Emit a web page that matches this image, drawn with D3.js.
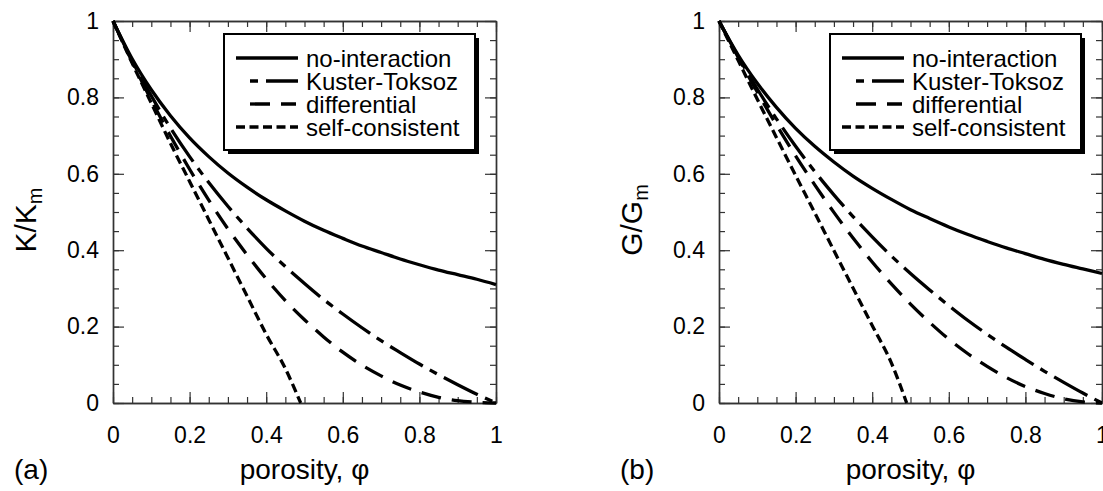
<!DOCTYPE html>
<html>
<head>
<meta charset="utf-8">
<script src="https://cdn.jsdelivr.net/npm/d3@7"></script>
<style>
body { margin: 0; background: #fff; }
text { font-family: "Liberation Sans", Arial, sans-serif; fill: #000; }
.axis path.domain { stroke: #333; stroke-width: 1.4; }
.axis .tick line { stroke: #333; stroke-width: 1.2; }
.axis .tick text { font-size: 23px; }
</style>
</head>
<body>
<svg id="chart" width="1103" height="491"></svg>
<script>
// porosity values the curves were read at
const phi = [0, 0.05, 0.1, 0.15, 0.2, 0.25, 0.3, 0.35, 0.4, 0.45, 0.5,
             0.55, 0.6, 0.65, 0.7, 0.75, 0.8, 0.85, 0.9, 0.95, 1];
const phiSC = [0, 0.05, 0.1, 0.15, 0.2, 0.25, 0.3, 0.35, 0.4, 0.45, 0.49];

// (a) bulk modulus K/Km
const kNoInteraction = [1, 0.901, 0.820, 0.752, 0.694, 0.645, 0.602, 0.565, 0.532, 0.503, 0.476,
                        0.452, 0.431, 0.411, 0.394, 0.377, 0.362, 0.348, 0.336, 0.324, 0.31];
const kKusterToksoz = [1, 0.896, 0.804, 0.720, 0.645, 0.577, 0.515, 0.458, 0.405, 0.357, 0.313,
                       0.271, 0.233, 0.197, 0.163, 0.132, 0.102, 0.074, 0.048, 0.023, 0];
const kDifferential = [1, 0.893, 0.793, 0.699, 0.612, 0.531, 0.456, 0.388, 0.325, 0.268, 0.218,
                       0.173, 0.133, 0.099, 0.071, 0.047, 0.029, 0.015, 0.006, 0.002, 0];
const kSelfConsistent = [1, 0.89, 0.785, 0.68, 0.58, 0.48, 0.38, 0.28, 0.18, 0.09, 0];

// (b) shear modulus G/Gm
const gNoInteraction = [1, 0.911, 0.837, 0.774, 0.719, 0.672, 0.631, 0.594, 0.562, 0.533, 0.506,
                        0.483, 0.461, 0.441, 0.423, 0.406, 0.391, 0.376, 0.363, 0.351, 0.339];
const gKusterToksoz = [1, 0.907, 0.822, 0.744, 0.672, 0.606, 0.545, 0.488, 0.435, 0.385, 0.339,
                       0.296, 0.255, 0.216, 0.180, 0.146, 0.114, 0.083, 0.054, 0.026, 0];
const gDifferential = [1, 0.905, 0.814, 0.728, 0.647, 0.571, 0.499, 0.432, 0.369, 0.312, 0.259,
                       0.211, 0.167, 0.129, 0.096, 0.067, 0.043, 0.025, 0.011, 0.003, 0];
const gSelfConsistent = [1, 0.897, 0.795, 0.695, 0.596, 0.498, 0.399, 0.301, 0.203, 0.105, 0];

const xTicks = [0, 0.2, 0.4, 0.6, 0.8, 1];
const yTicks = [0, 0.2, 0.4, 0.6, 0.8, 1];
const minorTicks = d3.range(0, 1.0001, 0.05);
const legendLabels = ["no-interaction", "Kuster-Toksoz", "differential", "self-consistent"];

const plotW = 383, plotH = 382, plotTop = 21;

// line look for each model, in legend order (legend x's are relative to the plot)
const styles = [
  { dash: null, legendX0: 123, legendX1: 185, offset: 0 },
  { dash: "38,8,8,8", legendX0: 137, legendX1: 185, offset: 46 },
  { dash: "20,11", legendX0: 137, legendX1: 183, offset: 0 },
  { dash: "9,4.5", legendX0: 123, legendX1: 185, offset: 0 }
];

const panels = [
  { left: 113, tag: "(a)", sym: "K",
    series: [[phi, kNoInteraction], [phi, kKusterToksoz], [phi, kDifferential], [phiSC, kSelfConsistent]] },
  { left: 719, tag: "(b)", sym: "G",
    series: [[phi, gNoInteraction], [phi, gKusterToksoz], [phi, gDifferential], [phiSC, gSelfConsistent]] }
];

const svg = d3.select("#chart");

const x = d3.scaleLinear().domain([0, 1]).range([0, plotW]);
const y = d3.scaleLinear().domain([0, 1]).range([plotH, 0]);

const line = d3.line()
  .x(d => x(d[0]))
  .y(d => y(d[1]))
  .curve(d3.curveMonotoneX);

panels.forEach(p => {
  const g = svg.append("g").attr("transform", `translate(${p.left},${plotTop})`);

  // minor ticks on all four sides
  const minor = [
    [d3.axisBottom(x), `translate(0,${plotH})`],
    [d3.axisTop(x), null],
    [d3.axisLeft(y), null],
    [d3.axisRight(y), `translate(${plotW},0)`]
  ];
  minor.forEach(([ax, tr]) => {
    g.append("g").attr("class", "axis").attr("transform", tr)
      .call(ax.tickValues(minorTicks).tickSizeInner(-6).tickSizeOuter(0).tickFormat(""));
  });

  // major ticks
  g.append("g").attr("class", "axis").attr("transform", `translate(0,${plotH})`)
    .call(d3.axisBottom(x).tickValues(xTicks).tickSizeInner(-11).tickSizeOuter(0)
      .tickPadding(24).tickFormat(d3.format("~g")));
  g.append("g").attr("class", "axis")
    .call(d3.axisTop(x).tickValues(xTicks).tickSizeInner(-11).tickSizeOuter(0).tickFormat(""));
  g.append("g").attr("class", "axis")
    .call(d3.axisLeft(y).tickValues(yTicks).tickSizeInner(-11).tickSizeOuter(0)
      .tickPadding(14).tickFormat(d3.format("~g")));
  g.append("g").attr("class", "axis").attr("transform", `translate(${plotW},0)`)
    .call(d3.axisRight(y).tickValues(yTicks).tickSizeInner(-11).tickSizeOuter(0).tickFormat(""));

  // curves
  p.series.forEach((s, i) => {
    g.append("path")
      .datum(d3.zip(s[0], s[1]))
      .attr("d", line)
      .attr("fill", "none")
      .attr("stroke", "#000")
      .attr("stroke-width", 3.3)
      .attr("stroke-dasharray", styles[i].dash);
  });

  // legend with drop shadow
  const lg = g.append("g").attr("transform", "translate(111,13)");
  lg.append("rect").attr("x", 4).attr("y", 4).attr("width", 251).attr("height", 116).attr("fill", "#000");
  lg.append("rect").attr("width", 251).attr("height", 116)
    .attr("fill", "#fff").attr("stroke", "#000").attr("stroke-width", 2);
  legendLabels.forEach((name, i) => {
    const ly = 24 + i * 23;
    lg.append("line")
      .attr("x1", styles[i].legendX0 - 111).attr("x2", styles[i].legendX1 - 111)
      .attr("y1", ly).attr("y2", ly)
      .attr("stroke", "#000").attr("stroke-width", 3.3)
      .attr("stroke-dasharray", styles[i].dash)
      .attr("stroke-dashoffset", styles[i].offset);
    lg.append("text").attr("x", 82).attr("y", ly + 9)
      .style("font-size", "24px").text(name);
  });

  // axis titles
  g.append("text")
    .attr("x", plotW / 2).attr("y", 458)
    .attr("text-anchor", "middle")
    .style("font-size", "28px")
    .text("porosity, φ");

  const yt = g.append("text")
    .attr("transform", `translate(-77,${220 - plotTop}) rotate(-90)`)
    .attr("text-anchor", "middle")
    .style("font-size", "30px");
  yt.append("tspan").text(`${p.sym}/${p.sym}`);
  yt.append("tspan").attr("dy", 6).style("font-size", "20px").text("m");

  g.append("text")
    .attr("x", -99).attr("y", 458)
    .style("font-size", "28px")
    .text(p.tag);
});
</script>
</body>
</html>
